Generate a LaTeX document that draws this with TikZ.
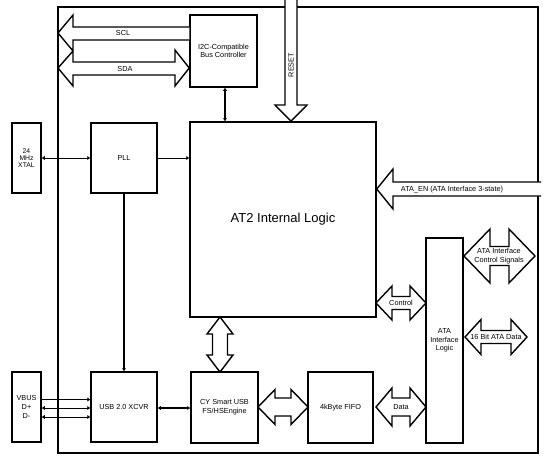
\documentclass[tikz,border=0pt]{standalone}
\usepackage{fontspec}
\setmainfont{Liberation Sans}
\usetikzlibrary{arrows.meta,calc}
\newcommand\HDA[6]{% x1,x2,yc,shaft half,head half,head length
  \filldraw[big] (#1,#3) -- (#1+#6,#3-#5) -- (#1+#6,#3-#4) -- (#2-#6,#3-#4) -- (#2-#6,#3-#5) -- (#2,#3)
   -- (#2-#6,#3+#5) -- (#2-#6,#3+#4) -- (#1+#6,#3+#4) -- (#1+#6,#3+#5) -- cycle;}
\newcommand\VDA[6]{% y1,y2,xc,shaft half,head half,head length
  \filldraw[big] (#3,#1) -- (#3-#5,#1+#6) -- (#3-#4,#1+#6) -- (#3-#4,#2-#6) -- (#3-#5,#2-#6) -- (#3,#2)
   -- (#3+#5,#2-#6) -- (#3+#4,#2-#6) -- (#3+#4,#1+#6) -- (#3+#5,#1+#6) -- cycle;}
\begin{document}
\begin{tikzpicture}[x=1pt,y=-1pt,
  box/.style={draw,line width=1.5pt,inner sep=0pt,align=center,font=\fontsize{7.3}{8.7}\selectfont},
  big/.style={fill=white,draw,line width=1.4pt,line join=miter},
  lbl/.style={font=\fontsize{7.3}{8.7}\selectfont,inner sep=0pt,align=center},
  wire/.style={line width=1pt},
  heavywire/.style={line width=1.8pt},
  tipr/.style={-{Latex[length=3pt,width=4.5pt]}},
  tipb/.style={{Latex[length=3pt,width=4.5pt]}-{Latex[length=3pt,width=4.5pt]}}]
\useasboundingbox (0,0) rectangle (547,461);
% frame
\draw[line width=1.1pt] (58,7) rectangle (538,453);
% boxes
\node[box,minimum width=67,minimum height=72] (i2c) at (223.5,51) {I2C-Compatible\\Bus Controller};
\node[box,minimum width=186,minimum height=195,font=\fontsize{13}{15}\selectfont] (at2) at (283,219.5) {AT2 Internal Logic};
\node[box,minimum width=29,minimum height=70,font=\fontsize{6.8}{7}\selectfont] (xtal) at (26.5,158) {24\\MHz\\XTAL};
\node[box,minimum width=66,minimum height=70] (pll) at (124,158) {PLL};
\node[box,minimum width=29,minimum height=70] (vbus) at (26.5,407) {VBUS\\D+\\D-};
\node[box,minimum width=66,minimum height=70] (xcvr) at (124,407) {USB 2.0 XCVR};
\node[box,minimum width=67,minimum height=71] (cy) at (224.5,407.5) {CY Smart USB\\FS/HSEngine};
\node[box,minimum width=65,minimum height=71] (fifo) at (340.5,407.5) {4kByte FIFO};
\node[box,minimum width=37,minimum height=205] (ata) at (444.5,340.5) {ATA\\Interface\\Logic};
% helper coordinates
\coordinate (i2cs) at ($(i2c.south)+(1.5,0)$);
\coordinate (vb1) at ($(vbus.east)+(0,-7.5)$);
\coordinate (vb2) at ($(vbus.east)+(0,1)$);
\coordinate (vb3) at ($(vbus.east)+(0,10)$);
\coordinate (xc1) at ($(xcvr.east)+(0,1)$);
% small connectors
\draw[wire,tipb] (xtal) -- (pll);
\draw[wire,tipr] (pll.east) -- (pll.east -| at2.west);
\draw[heavywire,tipb] (i2cs) -- (i2cs |- at2.north);
\draw[heavywire,tipr] (pll.south) -- (xcvr.north);
\draw[wire,tipr] (vb1) -- (vb1 -| xcvr.west);
\draw[wire,tipb] (vb2) -- (vb2 -| xcvr.west);
\draw[wire,tipb] (vb3) -- (vb3 -| xcvr.west);
\draw[heavywire,tipb] (xc1) -- (xc1 -| cy.west);
% SCL / SDA block arrows
\filldraw[big] (i2c.west |- 0,27) -- (73,27) -- (73,15) -- (58,33) -- (73,51) -- (58,68) -- (73,86)
  -- (73,75) -- (175,75) -- (175,86) -- (i2c.west |- 0,68) -- (175,50) -- (175,62) -- (73,62) -- (73,40)
  -- (i2c.west |- 0,40);
\node[lbl] (scl) at (123,33) {SCL};
\node[lbl] (sda) at (125,69) {SDA};
% RESET
\filldraw[big] (285,0) -- (285,105) -- (275,105) -- (291,0 |- at2.north) -- (307,105) -- (297,105) -- (297,0);
\node[lbl,rotate=90] (reset) at (291,65) {RESET};
% ATA_EN
\filldraw[big] (541,182) -- (393,182) -- (393,169) -- (at2.east |- 0,189) -- (393,209) -- (393,196) -- (541,196);
\node[lbl] (ataen) at (452,189.5) {ATA\_EN (ATA Interface 3-state)};
% double block arrows
\VDA{317}{372}{220}{7.5}{13}{17}
\HDA{258}{308}{407}{9}{17.5}{17}
\HDA{376}{426}{303}{6.5}{17}{16}
\node[lbl] (ctl) at (401,303) {Control};
\HDA{376}{426}{407}{9}{19}{16}
\node[lbl] (dat) at (401,407) {Data};
\HDA{464}{535}{256}{9.5}{27}{26}
\node[lbl] (ctls) at (499,256) {ATA Interface\\Control Signals};
\HDA{465}{527}{337}{6.5}{17.5}{16}
\node[lbl] (bit16) at (496,337) {16 Bit ATA Data};
\end{tikzpicture}
\end{document}
